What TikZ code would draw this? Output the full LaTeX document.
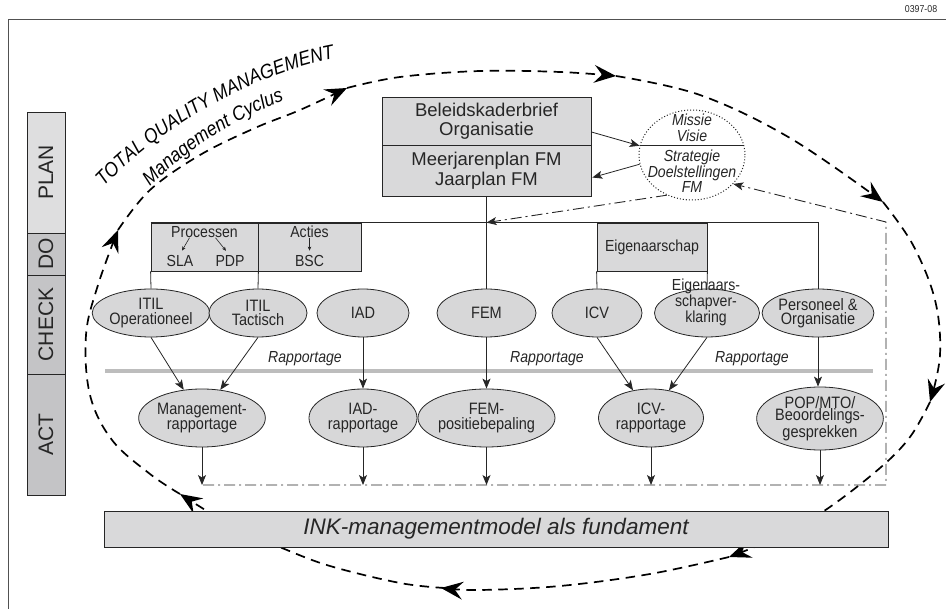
\documentclass[tikz,border=0pt]{standalone}
\usepackage{fontspec}
\setmainfont{Liberation Sans}
\setsansfont{Liberation Sans}
\newfontfamily\cond[FakeStretch=0.88]{Liberation Sans}
\usetikzlibrary{shapes.geometric,arrows.meta,calc,decorations.text}

\definecolor{ink}{HTML}{262626}
\definecolor{boxfill}{HTML}{D9D9DA}
\definecolor{ellfill}{HTML}{D7D7D8}
\definecolor{planfill}{HTML}{DEDEDF}
\definecolor{phasefill}{HTML}{C4C4C6}
\definecolor{bandgray}{HTML}{BDBDBD}

\tikzset{
  boxnode/.style={draw=ink, fill=boxfill, line width=0.8pt, inner sep=0pt, align=center,
    text=ink, font=\cond\fontsize{16}{15}\selectfont},
  bigbox/.style={boxnode, minimum width=209pt, font=\fontsize{18.5}{19.5}\selectfont},
  phase/.style={draw=ink, line width=0.8pt, fill=phasefill, inner sep=0pt, minimum height=38pt,
    text=ink, font=\fontsize{21}{21}\selectfont, rotate=90},
  smalltext/.style={inner sep=0pt, text=ink, font=\cond\fontsize{16}{15}\selectfont},
  ell/.style={ellipse, draw=ink, fill=ellfill, line width=0.8pt, inner sep=0pt, align=center,
    text=ink, font=\cond\fontsize{16.5}{14.5}\selectfont},
  rowa/.style={ell, minimum height=48pt},
  rowb/.style={ell, minimum height=58pt},
  conn/.style={draw=ink, line width=0.8pt},
  arr/.style={conn, -{Stealth[length=10pt,width=8pt,inset=2.5pt]}},
  tinyarr/.style={draw=ink, line width=0.6pt, -{Stealth[length=4pt,width=3.5pt,inset=1pt]}},
  dashdot/.style={line width=0.9pt, dash pattern=on 11pt off 4pt on 2pt off 4pt},
  cycleline/.style={draw=black, line width=1.7pt, dash pattern=on 9.5pt off 6.5pt,
    -{Stealth[length=22pt,width=18pt,inset=8pt,line width=0pt]}},
  label/.style={inner sep=0pt, text=ink, font=\cond\itshape\fontsize{16}{16}\selectfont},
}

\begin{document}
\begin{tikzpicture}[x=1pt,y=-1pt]
\useasboundingbox (0,0) rectangle (946,609);

% outer frame and drawing number
\draw[draw=ink!80, line width=1pt] (8,609) -- (8,20) -- (946,20);
\node[inner sep=0pt, text=ink, font=\cond\fontsize{10}{10}\selectfont] (num) at (921,9) {0397-08};

% the clockwise management cycle (dashed loop with arrowheads)
\draw[cycleline] plot[smooth, tension=0.6] coordinates {(445,588) (400,583) (330,566) (282,548) (240,530) (207,511) (180,494)};
\draw[cycleline] plot[smooth, tension=0.6] coordinates {(180,494) (150,474) (112,440) (90,395) (86,335) (98,285) (118,230)};
\draw[cycleline] plot[smooth, tension=0.6] coordinates {(118,230) (150,190) (200,155) (255,128) (300,110) (347,88)};
\draw[cycleline] plot[smooth, tension=0.6] coordinates {(347,88) (400,77) (480,71) (560,72) (616,76)};
\draw[cycleline] plot[smooth, tension=0.6] coordinates {(616,76) (700,95) (790,138) (883,202)};
\draw[cycleline] plot[smooth, tension=0.6] coordinates {(883,202) (913,245) (935,300) (940,355) (930,402)};
\draw[cycleline] plot[smooth, tension=0.6] coordinates {(930,402) (910,437) (880,468) (827,509) (780,536) (729,557)};
\draw[cycleline] plot[smooth, tension=0.6] coordinates {(729,557) (650,574) (560,586) (480,590) (441,588)};

% curved title along the cycle
\path[decorate, decoration={text along path, text align=center,
  text={|\cond\itshape\fontsize{20}{20}\selectfont|TOTAL QUALITY MANAGEMENT}}]
  (98,193) .. controls (148,137) and (248,72) .. (343,57);
\path[decorate, decoration={text along path, text align=center,
  text={|\cond\itshape\fontsize{20}{20}\selectfont|Management Cyclus}}]
  (141,195) .. controls (181,155) and (231,117) .. (296,97);

% PDCA phases
\node[phase, fill=planfill, minimum width=121pt] (plan) at (46,172.5) {PLAN};
\node[phase, minimum width=42pt] (do) at (46,254) {DO};
\node[phase, minimum width=99pt] (check) at (46,324.5) {CHECK};
\node[phase, minimum width=121pt] (act) at (46,434.5) {ACT};

% planning documents
\node[bigbox, minimum height=48pt] (bel) at (486.5,121) {Beleidskaderbrief\\Organisatie};
\node[bigbox, minimum height=51pt] (mj) at (486.5,170.5) {Meerjarenplan FM\\Jaarplan FM};

% mission / vision ellipse
\node[ellipse, draw=ink, dotted, line width=1pt, fill=white, minimum width=106pt, minimum height=90pt, inner sep=0pt] (mv) at (692,155) {};
\draw[conn] (mv.170) -- (mv.10);
\node[label, align=center, font=\cond\itshape\fontsize{16}{15.5}\selectfont] (mvtop) at (692,128) {Missie\\Visie};
\node[label, align=center, font=\cond\itshape\fontsize{16}{14.5}\selectfont] (mvbot) at (692,171) {Strategie\\Doelstellingen\\FM};
\draw[arr] ($(bel.east)+(0,11)$) -- (mv.170);
\draw[arr] (mv.190) -- ($(mj.east)+(1,7)$);

% DO boxes
\node[boxnode, minimum width=107pt, minimum height=48pt] (pbox) at (204.5,247) {};
\node[boxnode, minimum width=103pt, minimum height=48pt] (abox) at (309.5,247) {};
\node[boxnode, minimum width=110pt, minimum height=48pt] (ebox) at (652,247) {Eigenaarschap};
\node[smalltext] (proc) at (204.5,232) {Processen};
\node[smalltext] (sla) at (180,260.5) {SLA};
\node[smalltext] (pdp) at (230,260.5) {PDP};
\node[smalltext] (acties) at (309.5,232) {Acties};
\node[smalltext] (bsc) at (309.5,260.5) {BSC};
\draw[tinyarr] ([xshift=-15pt]proc.south) -- ([xshift=2pt,yshift=4pt]sla.north);
\draw[tinyarr] ([xshift=11pt]proc.south) -- ([xshift=-4pt,yshift=4pt]pdp.north);
\draw[tinyarr] (acties.south) -- ([yshift=4pt]bsc.north);

% CHECK row
\node[rowa, minimum width=97pt] (itilop) at (151,313) {ITIL\\Operationeel};
\node[rowa, minimum width=98pt] (itilt) at (258,313) {ITIL\\Tactisch};
\node[rowa, minimum width=92pt] (iad) at (363,313) {IAD};
\node[rowa, minimum width=99pt] (fem) at (486.5,313) {FEM};
\node[rowa, minimum width=90pt] (icv) at (597,313) {ICV};
\node[rowa, minimum width=105pt] (eig) at (707,313) {};
\node[smalltext, align=center, font=\cond\fontsize{16}{11.5}\selectfont] (eigtext) at (706,302) {Eigenaars-\\schapver-\\klaring};
\node[rowa, minimum width=99pt] (pers) at (818,313) {Personeel \&\\Organisatie};

% tree connectors
\coordinate (junction) at (mj.south |- pbox.north);
\draw[conn] (pbox.north west) -- (pbox.north west -| pers.north) -- (pers.north);
\draw[conn] (mj.south) -- (fem.north);
\draw[conn] (pbox.south west) -- (itilop.north);
\draw[conn] (pbox.south east) -- (itilt.north);
\draw[conn] (ebox.south west) -- (icv.north);
\draw[conn] (ebox.south east) -- (eig.north);

% reporting band
\draw[draw=bandgray, line width=3.5pt] (105,371) -- (873,371);
\node[label] (rap1) at (305,359) {Rapportage};
\node[label] (rap2) at (547,359) {Rapportage};
\node[label] (rap3) at (752,359) {Rapportage};

% ACT row
\node[rowb, minimum width=107pt] (mgmt) at (202,418) {Management-\\rapportage};
\node[rowb, minimum width=108pt] (iadr) at (363,418) {IAD-\\rapportage};
\node[rowb, minimum width=109pt] (femp) at (486.5,418) {FEM-\\positiebepaling};
\node[rowb, minimum width=105pt] (icvr) at (651,418) {ICV-\\rapportage};
\node[rowb, minimum width=115pt, minimum height=63pt, font=\cond\fontsize{16.5}{12.5}\selectfont] (pop) at (820,418.5) {POP/MTO/\\Beoordelings-\\gesprekken};

\draw[arr] (itilop.south) -- (mgmt.123);
\draw[arr] (itilt.south) -- (mgmt.57);
\draw[arr] (iad.south) -- (iadr.north);
\draw[arr] (fem.south) -- (femp.north);
\draw[arr] (icv.south) -- (icvr.123);
\draw[arr] (eig.south) -- (icvr.57);
\draw[arr] (pers.south) -- (pers.south |- pop.north);

% feedback line back to the mission
\coordinate (ddl) at (203,485);
\coordinate (ddr) at (886,485);
\coordinate (ddt) at (886,222);
\draw[arr, dashdot] (ddl) -- (ddr) -- (ddt) -- (mv.-35);
\draw[arr, dashdot] (mv.-122) -- (junction);
\draw[arr] (mgmt.south) -- (mgmt.south |- ddl);
\draw[arr] (iadr.south) -- (iadr.south |- ddl);
\draw[arr] (femp.south) -- (femp.south |- ddl);
\draw[arr] (icvr.south) -- (icvr.south |- ddl);
\draw[arr] (pop.south) -- (pop.south |- ddl);

% foundation
\node[boxnode, minimum width=784pt, minimum height=36pt, font=\itshape\fontsize{22.5}{24}\selectfont] (ink) at (496,529) {INK-managementmodel als fundament};
\end{tikzpicture}
\end{document}
